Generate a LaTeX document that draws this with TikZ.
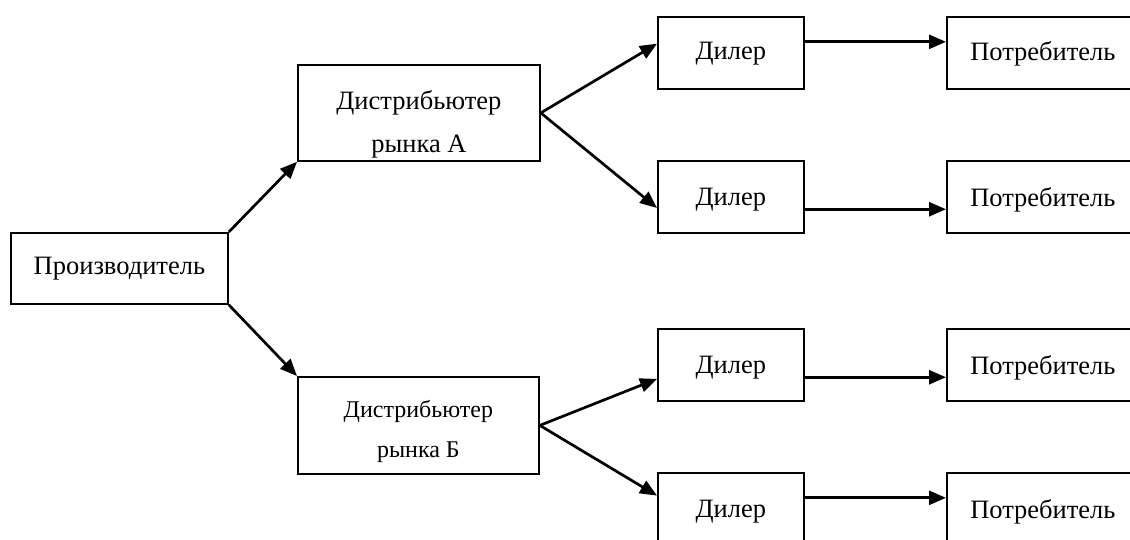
\documentclass[tikz,border=0pt]{standalone}
\usepackage{fontspec}
\setmainfont{Liberation Serif}
\usetikzlibrary{arrows.meta,calc}
\begin{document}
\begin{tikzpicture}[x=1pt,y=-1pt,
  box/.style={draw,line width=1.8pt,inner sep=0pt,anchor=north west,minimum width=146pt,minimum height=72pt},
  lab/.style={anchor=base,font=\fontsize{26.5}{30}\selectfont,inner sep=0pt},
  labs/.style={anchor=base,font=\fontsize{24}{28}\selectfont,inner sep=0pt},
  conn/.style={line width=2.7pt,-{Triangle[length=17pt,width=14pt]}}]
\useasboundingbox (0,0) rectangle (1130,539);
\clip (0,0) rectangle (1130,539);
% producer
\node[box,minimum width=217pt,minimum height=71pt,label={[lab,yshift=-0.5pt]center:Производитель}] (P) at (10,232) {};
% distributors
\node[box,minimum width=242pt,minimum height=96pt,
  label={[lab,yshift=10pt]center:Дистрибьютер},
  label={[lab,yshift=-34pt]center:рынка А}] (DA) at (297,64) {};
\node[box,minimum width=241pt,minimum height=97pt,
  label={[labs,yshift=13.5pt]center:Дистрибьютер},
  label={[labs,yshift=-26.5pt]center:рынка Б}] (DB) at (297,376) {};
% dealers
\node[box,label={[lab,yshift=-1pt]center:Дилер}] (D1) at (657,16) {};
\node[box,label={[lab,yshift=-3pt]center:Дилер}] (D2) at (657,160) {};
\node[box,label={[lab,yshift=-3pt]center:Дилер}] (D3) at (657,328) {};
\node[box,label={[lab,yshift=-3pt]center:Дилер}] (D4) at (657,472) {};
% consumers
\node[box,minimum width=192pt,label={[lab,yshift=-1pt]center:Потребитель}] (C1) at (946,16) {};
\node[box,minimum width=192pt,label={[lab,yshift=-3pt]center:Потребитель}] (C2) at (946,160) {};
\node[box,minimum width=192pt,label={[lab,yshift=-3pt]center:Потребитель}] (C3) at (946,328) {};
\node[box,minimum width=192pt,label={[lab,yshift=-3pt]center:Потребитель}] (C4) at (946,472) {};
% connectors
\draw[conn] (P.north east) -- (DA.south west);
\draw[conn] (P.south east) -- (DB.north west);
\draw[conn] (DA.east) -- ($(D1.north west)!0.375!(D1.south west)$);
\draw[conn] (DA.east) -- ($(D2.north west)!0.65!(D2.south west)$);
\draw[conn] (DB.east) -- ($(D3.north west)!0.69!(D3.south west)$);
\draw[conn] (DB.east) -- ($(D4.north west)!0.32!(D4.south west)$);
\draw[conn] ($(D1.north east)!0.35!(D1.south east)$) -- ($(C1.north west)!0.35!(C1.south west)$);
\draw[conn] ($(D2.north east)!0.667!(D2.south east)$) -- ($(C2.north west)!0.667!(C2.south west)$);
\draw[conn] ($(D3.north east)!0.667!(D3.south east)$) -- ($(C3.north west)!0.667!(C3.south west)$);
\draw[conn] ($(D4.north east)!0.35!(D4.south east)$) -- ($(C4.north west)!0.35!(C4.south west)$);
\end{tikzpicture}
\end{document}
